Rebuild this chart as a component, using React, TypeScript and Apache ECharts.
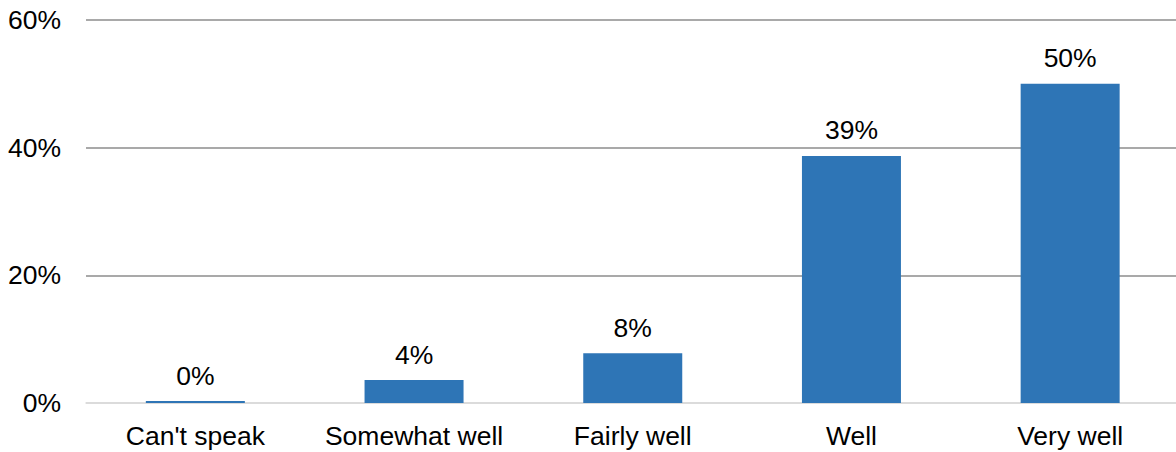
import React, { useEffect, useRef } from "react";
import * as echarts from "echarts";

const categories = ["Can't speak", "Somewhat well", "Fairly well", "Well", "Very well"];
const values = [0.3, 3.6, 7.8, 38.7, 50];
const yTicks = [0, 20, 40, 60];

export default function App() {
  const ref = useRef<HTMLDivElement>(null);
  useEffect(() => {
    document.body.style.margin = "0";
    const chart = echarts.init(ref.current!, null, { renderer: "svg" });
    chart.setOption({
      animation: false,
      textStyle: { fontFamily: "Liberation Sans, Arial, sans-serif" },
      grid: { left: 86, right: 0.5, top: 20, bottom: 49 },
      xAxis: {
        type: "category",
        data: categories,
        axisLine: { show: true, lineStyle: { color: "#d9d9d9", width: 1.5 } },
        axisTick: { show: false },
        axisLabel: { color: "#000", fontSize: 26.5, margin: 19, interval: 0 },
      },
      yAxis: {
        type: "value",
        min: yTicks[0],
        max: yTicks[yTicks.length - 1],
        interval: 20,
        axisLine: { show: false },
        axisTick: { show: false },
        axisLabel: { color: "#000", fontSize: 26.5, margin: 25, formatter: (v: number) => v + "%" },
        splitLine: { show: true, lineStyle: { color: ["#d9d9d9", "#8c8c8c", "#8c8c8c", "#8c8c8c"], width: 1.5 } },
      },
      series: [
        {
          type: "bar",
          data: values,
          barWidth: 99,
          itemStyle: { color: "#2e75b6" },
          label: {
            show: true,
            position: "top",
            distance: 12,
            color: "#000",
            fontSize: 26.5,
            formatter: (p: any) => Math.round(p.value) + "%",
          },
        },
      ],
    });
    return () => chart.dispose();
  }, []);
  return (
    <div style={{ width: 1176, height: 452, overflow: "hidden" }}>
      <div ref={ref} style={{ width: 1180, height: 452 }} />
    </div>
  );
}
